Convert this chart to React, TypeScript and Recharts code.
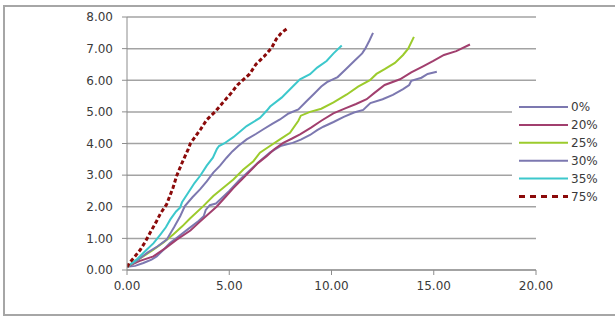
import React from "react";
import { LineChart, Line, XAxis, YAxis, CartesianGrid } from "recharts";

const seriesNames = ["0%", "20%", "25%", "30%", "35%", "75%"];
const seriesColors = ["#7C78B0", "#A13F6E", "#9CCB2C", "#7C78B0", "#3CC8CC", "#8B0A0A"];

const xTicks = [0, 5, 10, 15, 20];
const yTicks = [0, 1, 2, 3, 4, 5, 6, 7, 8];

const s0: [number, number][] = [
  [0, 0.1], [0.4, 0.13], [0.8, 0.22], [1.2, 0.33], [1.45, 0.43], [1.8, 0.65], [2.1, 0.85],
  [2.5, 1.05], [3.0, 1.3], [3.5, 1.55], [3.75, 1.7], [3.85, 1.9], [4.05, 2.05], [4.35, 2.1],
  [4.6, 2.25], [5.0, 2.5], [5.5, 2.85], [6.0, 3.15], [6.5, 3.45], [7.0, 3.72], [7.5, 3.92],
  [8.1, 4.02], [8.5, 4.12], [8.95, 4.27], [9.3, 4.42], [9.6, 4.53], [10.1, 4.68], [10.6, 4.84],
  [11.1, 4.98], [11.55, 5.06], [11.9, 5.28], [12.5, 5.4], [13.0, 5.54], [13.5, 5.72],
  [13.8, 5.85], [13.9, 5.98], [14.4, 6.08], [14.7, 6.2], [15.15, 6.27],
];

const s20: [number, number][] = [
  [0, 0.1], [0.6, 0.28], [1.29, 0.43], [1.9, 0.7], [2.43, 0.96], [3.1, 1.25], [3.57, 1.53],
  [3.9, 1.72], [4.38, 2.0], [4.8, 2.3], [5.2, 2.59], [5.6, 2.85], [6.01, 3.12], [6.4, 3.38],
  [6.83, 3.6], [7.2, 3.82], [7.64, 4.02], [8.05, 4.15], [8.46, 4.29], [9.0, 4.5], [9.5, 4.72],
  [10.09, 4.95], [10.7, 5.12], [11.2, 5.25], [11.72, 5.4], [12.1, 5.6], [12.6, 5.85],
  [13.35, 6.03], [13.9, 6.25], [14.5, 6.45], [14.98, 6.61], [15.5, 6.8], [16.1, 6.92], [16.77, 7.13],
];

const s25: [number, number][] = [
  [0, 0.1], [0.6, 0.35], [1.29, 0.64], [1.8, 0.88], [2.26, 1.12], [2.7, 1.38], [3.08, 1.63],
  [3.73, 2.02], [4.22, 2.34], [4.71, 2.6], [5.2, 2.86], [5.69, 3.18], [6.18, 3.44], [6.5, 3.71],
  [6.99, 3.92], [7.48, 4.13], [7.97, 4.34], [8.38, 4.72], [8.5, 4.88], [8.95, 5.0], [9.5, 5.1],
  [10.1, 5.3], [10.75, 5.55], [11.3, 5.8], [11.88, 6.0], [12.2, 6.2], [12.6, 6.35], [13.1, 6.55],
  [13.5, 6.8], [13.75, 7.0], [14.03, 7.37],
];

const s30: [number, number][] = [
  [0, 0.1], [0.5, 0.3], [1.0, 0.55], [1.5, 0.75], [1.94, 0.96], [2.3, 1.35], [2.6, 1.7],
  [2.83, 2.02], [3.2, 2.3], [3.57, 2.55], [3.9, 2.8], [4.22, 3.08], [4.55, 3.3], [4.87, 3.55],
  [5.15, 3.75], [5.44, 3.92], [5.85, 4.13], [6.3, 4.3], [6.67, 4.45], [7.1, 4.62], [7.48, 4.76],
  [7.9, 4.95], [8.38, 5.08], [8.8, 5.35], [9.1, 5.54], [9.5, 5.8], [9.78, 5.94], [10.3, 6.1],
  [10.7, 6.35], [11.1, 6.6], [11.5, 6.85], [11.65, 7.0], [11.85, 7.25], [12.03, 7.5],
];

const s35: [number, number][] = [
  [0, 0.1], [0.5, 0.35], [0.96, 0.64], [1.3, 0.85], [1.63, 1.12], [1.9, 1.35], [2.12, 1.6],
  [2.4, 1.85], [2.6, 1.98], [2.69, 2.14], [3.0, 2.45], [3.3, 2.75], [3.58, 2.98], [3.9, 3.3],
  [4.2, 3.55], [4.4, 3.83], [4.5, 3.92], [4.75, 4.0], [5.2, 4.2], [5.85, 4.55], [6.5, 4.81],
  [6.85, 5.05], [7.0, 5.17], [7.56, 5.45], [8.13, 5.82], [8.46, 6.03], [8.95, 6.19],
  [9.3, 6.4], [9.76, 6.61], [10.1, 6.85], [10.5, 7.1],
];

const s75: [number, number][] = [
  [0, 0.1], [0.15, 0.25], [0.35, 0.4], [0.65, 0.64], [0.9, 0.9], [1.15, 1.2], [1.45, 1.55],
  [1.65, 1.8], [1.94, 2.08], [2.1, 2.35], [2.25, 2.6], [2.43, 2.98], [2.7, 3.4], [3.0, 3.83],
  [3.1, 4.0], [3.6, 4.45], [3.9, 4.75], [4.3, 5.0], [4.7, 5.3], [5.1, 5.6], [5.4, 5.85],
  [5.69, 6.02], [6.0, 6.2], [6.3, 6.5], [6.7, 6.75], [7.07, 7.02], [7.3, 7.3], [7.55, 7.5], [7.8, 7.62],
];

const allSeries = [s0, s20, s25, s30, s35, s75];

const toData = (arr: [number, number][]) => arr.map(([x, y]) => ({ x, y }));

const fmt = (v: number) => v.toFixed(2);
const tickStyle = { fontFamily: "DejaVu Sans", fontSize: 12, fill: "#3a3a3a" };

export default function App() {
  return (
    <div style={{ position: "relative", width: 615, height: 320, overflow: "hidden", background: "#fff" }}>
      <style>{`body{margin:0;}`}</style>
      <div
        style={{
          position: "absolute",
          left: 3,
          top: 5,
          width: 640,
          height: 311,
          border: "2px solid #a6a6a6",
          boxSizing: "border-box",
        }}
      />
      <div style={{ position: "absolute", left: 0, top: 0 }}>
        <LineChart width={615} height={320} margin={{ top: 17, right: 79, bottom: 20, left: 67 }}>
          <CartesianGrid vertical={false} stroke="#a3a3a3" strokeWidth={1.5} />
          <XAxis
            type="number"
            dataKey="x"
            domain={[0, 20]}
            ticks={xTicks}
            tickFormatter={fmt}
            height={30}
            tickSize={5}
            tickMargin={6}
            stroke="#8c8c8c"
            tick={tickStyle}
            allowDataOverflow
          />
          <YAxis
            type="number"
            dataKey="y"
            domain={[0, 8]}
            ticks={yTicks}
            tickFormatter={fmt}
            width={60}
            tickSize={5}
            tickMargin={9}
            stroke="#8c8c8c"
            tick={tickStyle}
          />
          {allSeries.map((s, i) => (
            <Line
              key={seriesNames[i]}
              data={toData(s)}
              dataKey="y"
              name={seriesNames[i]}
              type="linear"
              stroke={seriesColors[i]}
              strokeWidth={i === 5 ? 3 : 2}
              strokeDasharray={i === 5 ? "4 2.5" : undefined}
              dot={false}
              activeDot={false}
              isAnimationActive={false}
            />
          ))}
        </LineChart>
      </div>
      <div
        style={{
          position: "absolute",
          left: 512,
          top: 96,
          width: 96,
          height: 110,
          background: "#fff",
        }}
      >
        <svg width={96} height={110}>
          {seriesNames.map((n, i) => {
            const cy = 11 + i * 17.9;
            return (
              <g key={n}>
                <line
                  x1={7}
                  x2={56}
                  y1={cy}
                  y2={cy}
                  stroke={seriesColors[i]}
                  strokeWidth={i === 5 ? 3 : 2}
                  strokeDasharray={i === 5 ? "6 5" : undefined}
                />
                <text
                  x={59}
                  y={cy}
                  dominantBaseline="central"
                  style={{ fontFamily: "DejaVu Sans", fontSize: 12, fill: "#3a3a3a" }}
                >
                  {n}
                </text>
              </g>
            );
          })}
        </svg>
      </div>
    </div>
  );
}
